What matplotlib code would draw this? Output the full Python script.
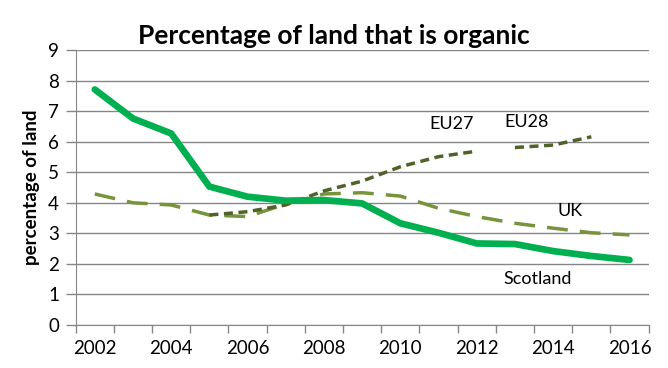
import matplotlib
matplotlib.use("Agg")
import matplotlib.pyplot as plt
import numpy as np

# data
years = list(range(2002, 2017))
scotland = [7.71, 6.76, 6.27, 4.53, 4.2, 4.07, 4.09, 3.98, 3.33, 3.02, 2.67, 2.65, 2.42, 2.26, 2.13]
uk = [4.29, 4.0, 3.93, 3.6, 3.55, 3.96, 4.29, 4.33, 4.22, 3.82, 3.55, 3.33, 3.17, 3.02, 2.95]
eu27_years = list(range(2005, 2013))
eu27 = [3.6, 3.71, 3.93, 4.39, 4.71, 5.18, 5.51, 5.69]
eu28_years = [2013, 2014, 2015]
eu28 = [5.81, 5.89, 6.16]
year_labels = list(range(2002, 2017, 2))

plt.rcParams['font.family'] = ['Lato', 'DejaVu Sans']

fig = plt.figure(figsize=(6.68, 3.68), dpi=100)
ax = fig.add_axes([0.1133, 0.1168, 0.971 - 0.1133, 0.864 - 0.1168])

grid_col = '#868686'
ax.plot(years, uk, color='#77933C', lw=2.5, dashes=(6, 3.5), zorder=3)
ax.plot(eu27_years, eu27, color='#4F6228', lw=2.5, dashes=(2.6, 1.6), zorder=4)
ax.plot(eu28_years, eu28, color='#4F6228', lw=2.5, dashes=(2.6, 1.6), zorder=4)
ax.plot(years, scotland, color='#00B050', lw=4.8, solid_capstyle='round',
        solid_joinstyle='round', zorder=5)

ax.set_xlim(2001.5, 2016.5)
ax.set_ylim(0, 9)
ax.set_yticks(range(0, 10))
ax.set_xticks(year_labels)
ax.set_xticklabels([str(y) for y in year_labels])
ax.set_xticks(np.arange(2001.5, 2017, 1), minor=True)
ax.tick_params(axis='x', which='major', length=0, pad=11, labelsize=13.5)
ax.tick_params(axis='x', which='minor', length=6, width=1, color=grid_col, direction='out')
ax.tick_params(axis='y', length=7, width=1, color=grid_col, direction='out', pad=5, labelsize=13.5)

ax.grid(axis='y', color=grid_col, lw=1)
ax.set_axisbelow(True)
for s in ['top', 'right']:
    ax.spines[s].set_visible(False)
ax.spines['left'].set_color(grid_col)
ax.spines['bottom'].set_color(grid_col)

ax.set_ylabel('percentage of land', fontsize=13.5, fontweight='bold', labelpad=6)
fig.text(0.50, 0.902, 'Percentage of land that is organic', fontsize=19,
         fontweight='bold', ha='center', va='center')

ax.text(2011.35, 6.58, 'EU27', fontsize=13, ha='center', va='center')
ax.text(2013.3, 6.63, 'EU28', fontsize=13, ha='center', va='center')
ax.text(2014.45, 3.72, 'UK', fontsize=13, ha='center', va='center')
ax.text(2013.6, 1.5, 'Scotland', fontsize=13, ha='center', va='center')

fig.savefig('out.png', dpi=100)
